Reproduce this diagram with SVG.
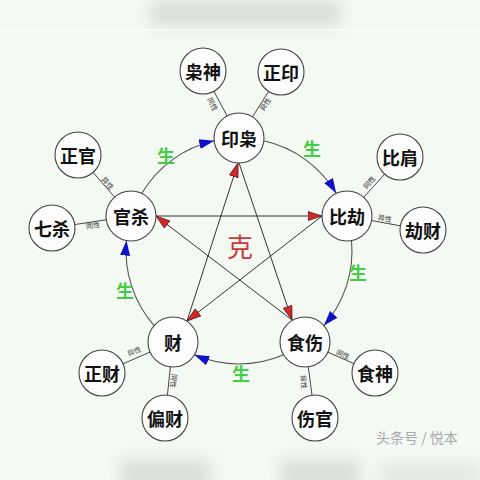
<svg xmlns="http://www.w3.org/2000/svg" width="480" height="480" viewBox="0 0 480 480">
<style>
.node circle{fill:#fcfdfc;stroke:#444;stroke-width:1.1}
.node text{font-family:"Noto Sans CJK SC",sans-serif;font-size:18px;font-weight:bold;fill:#111;text-anchor:middle;dominant-baseline:central}
.link{stroke:#444;stroke-width:1;fill:none}
.arc{stroke:#555;stroke-width:1.1;fill:none;marker-end:url(#blue)}
.star{stroke:#333;stroke-width:1;fill:none;marker-end:url(#red)}
.lbl{font-family:"Noto Sans CJK SC",sans-serif;font-size:7px;fill:#333;text-anchor:middle;dominant-baseline:central}
.sheng{font-family:"Noto Sans CJK SC",sans-serif;font-size:18px;font-weight:bold;fill:#44cc44;text-anchor:middle;dominant-baseline:central}
</style>
<defs>
<marker id="blue" markerUnits="userSpaceOnUse" markerWidth="16" markerHeight="12" refX="15" refY="5" orient="auto">
<path d="M0,0 L15,5 L0,10 Z" fill="#1010c8"/>
</marker>
<marker id="red" markerUnits="userSpaceOnUse" markerWidth="16" markerHeight="12" refX="14.5" refY="5" orient="auto">
<path d="M0.5,0.5 L14.5,5 L0.5,9.5 Z" fill="#d42828" stroke="#5a1c1c" stroke-width="0.8"/>
</marker>
<filter id="blur" x="-50%" y="-50%" width="200%" height="200%"><feGaussianBlur stdDeviation="8"/></filter>
</defs>
<rect width="480" height="480" fill="#f5f9f4"/>
<g opacity="0.35" filter="url(#blur)">
<rect x="150" y="0" width="190" height="26" fill="#a8aca8"/>
<rect x="120" y="460" width="90" height="30" fill="#a8aca8"/>
<rect x="280" y="460" width="80" height="30" fill="#a8aca8"/>
<rect x="380" y="462" width="100" height="30" fill="#c8ccc8"/>
</g>
<rect x="0" y="29" width="480" height="2" fill="#ffffff" opacity="0.6"/>

<g id="connectors">
<line class="link" x1="203" y1="71" x2="239" y2="138"/>
<line class="link" x1="281" y1="72" x2="239" y2="138"/>
<line class="link" x1="78" y1="155" x2="131" y2="216"/>
<line class="link" x1="52" y1="228" x2="131" y2="216"/>
<line class="link" x1="400" y1="157" x2="347" y2="216"/>
<line class="link" x1="423" y1="230" x2="347" y2="216"/>
<line class="link" x1="102" y1="373" x2="173" y2="342"/>
<line class="link" x1="165" y1="418" x2="173" y2="342"/>
<line class="link" x1="375" y1="373" x2="305" y2="342"/>
<line class="link" x1="315" y1="418" x2="305" y2="342"/>

<path class="arc" d="M263.8,140.8 A113,113 0 0 1 336.2,193.3"/>
<path class="arc" d="M351.5,240.6 A113,113 0 0 1 323.9,325.6"/>
<path class="arc" d="M283.7,354.8 A113,113 0 0 1 194.3,354.8"/>
<path class="arc" d="M154.1,325.6 A113,113 0 0 1 126.5,240.6"/>
<path class="arc" d="M141.8,193.3 A113,113 0 0 1 214.2,140.8"/>

<line class="star" x1="239" y1="163" x2="292" y2="320"/>
<line class="star" x1="292" y1="320" x2="156" y2="216"/>
<line class="star" x1="156" y1="216" x2="322" y2="216"/>
<line class="star" x1="322" y1="216" x2="187" y2="321"/>
<line class="star" x1="187" y1="321" x2="238" y2="163"/>

<text class="lbl" transform="translate(213,104) rotate(62)">同性</text>
<text class="lbl" transform="translate(265,104) rotate(-57)">异性</text>
<text class="lbl" transform="translate(108,183) rotate(48)">异性</text>
<text class="lbl" transform="translate(93,225) rotate(-9)">同性</text>
<text class="lbl" transform="translate(369,182) rotate(-49)">同性</text>
<text class="lbl" transform="translate(385,218) rotate(10)">异性</text>
<text class="lbl" transform="translate(134,351) rotate(-23)">异性</text>
<text class="lbl" transform="translate(174,381) rotate(96)">同性</text>
<text class="lbl" transform="translate(343,354) rotate(24)">同性</text>
<text class="lbl" transform="translate(304,382) rotate(84)">异性</text>

<text class="sheng" x="166" y="155">生</text>
<text class="sheng" x="312" y="148">生</text>
<text class="sheng" x="358" y="272">生</text>
<text class="sheng" x="241" y="373">生</text>
<text class="sheng" x="125" y="290">生</text>
<text x="240" y="245" font-family="Noto Sans CJK SC,sans-serif" font-size="26" fill="#cc3a3a" text-anchor="middle" dominant-baseline="central">克</text>
</g>

<g id="n-yinxiao" class="node"><circle cx="239" cy="138" r="25"/><text x="239" y="138">印枭</text></g>
<g id="n-bijie" class="node"><circle cx="347" cy="216" r="25"/><text x="347" y="216">比劫</text></g>
<g id="n-shishang" class="node"><circle cx="305" cy="342" r="25"/><text x="305" y="342">食伤</text></g>
<g id="n-cai" class="node"><circle cx="173" cy="342" r="25"/><text x="173" y="342">财</text></g>
<g id="n-guansha" class="node"><circle cx="131" cy="216" r="25"/><text x="131" y="216">官杀</text></g>

<g id="n-xiaoshen" class="node"><circle cx="203" cy="71" r="23"/><text x="203" y="71">枭神</text></g>
<g id="n-zhengyin" class="node"><circle cx="281" cy="72" r="23"/><text x="281" y="72">正印</text></g>
<g id="n-zhengguan" class="node"><circle cx="78" cy="155" r="23"/><text x="78" y="155">正官</text></g>
<g id="n-qisha" class="node"><circle cx="52" cy="228" r="23"/><text x="52" y="228">七杀</text></g>
<g id="n-bijian" class="node"><circle cx="400" cy="157" r="23"/><text x="400" y="157">比肩</text></g>
<g id="n-jiecai" class="node"><circle cx="423" cy="230" r="23"/><text x="423" y="230">劫财</text></g>
<g id="n-zhengcai" class="node"><circle cx="102" cy="373" r="23"/><text x="102" y="373">正财</text></g>
<g id="n-piancai" class="node"><circle cx="165" cy="418" r="23"/><text x="165" y="418">偏财</text></g>
<g id="n-shishen" class="node"><circle cx="375" cy="373" r="23"/><text x="375" y="373">食神</text></g>
<g id="n-shangguan" class="node"><circle cx="315" cy="418" r="23"/><text x="315" y="418">伤官</text></g>

<text x="376" y="437" font-family="Noto Sans CJK SC,sans-serif" font-size="14" fill="#a8a8a8" dominant-baseline="central">头条号 / 悦本</text>
</svg>
